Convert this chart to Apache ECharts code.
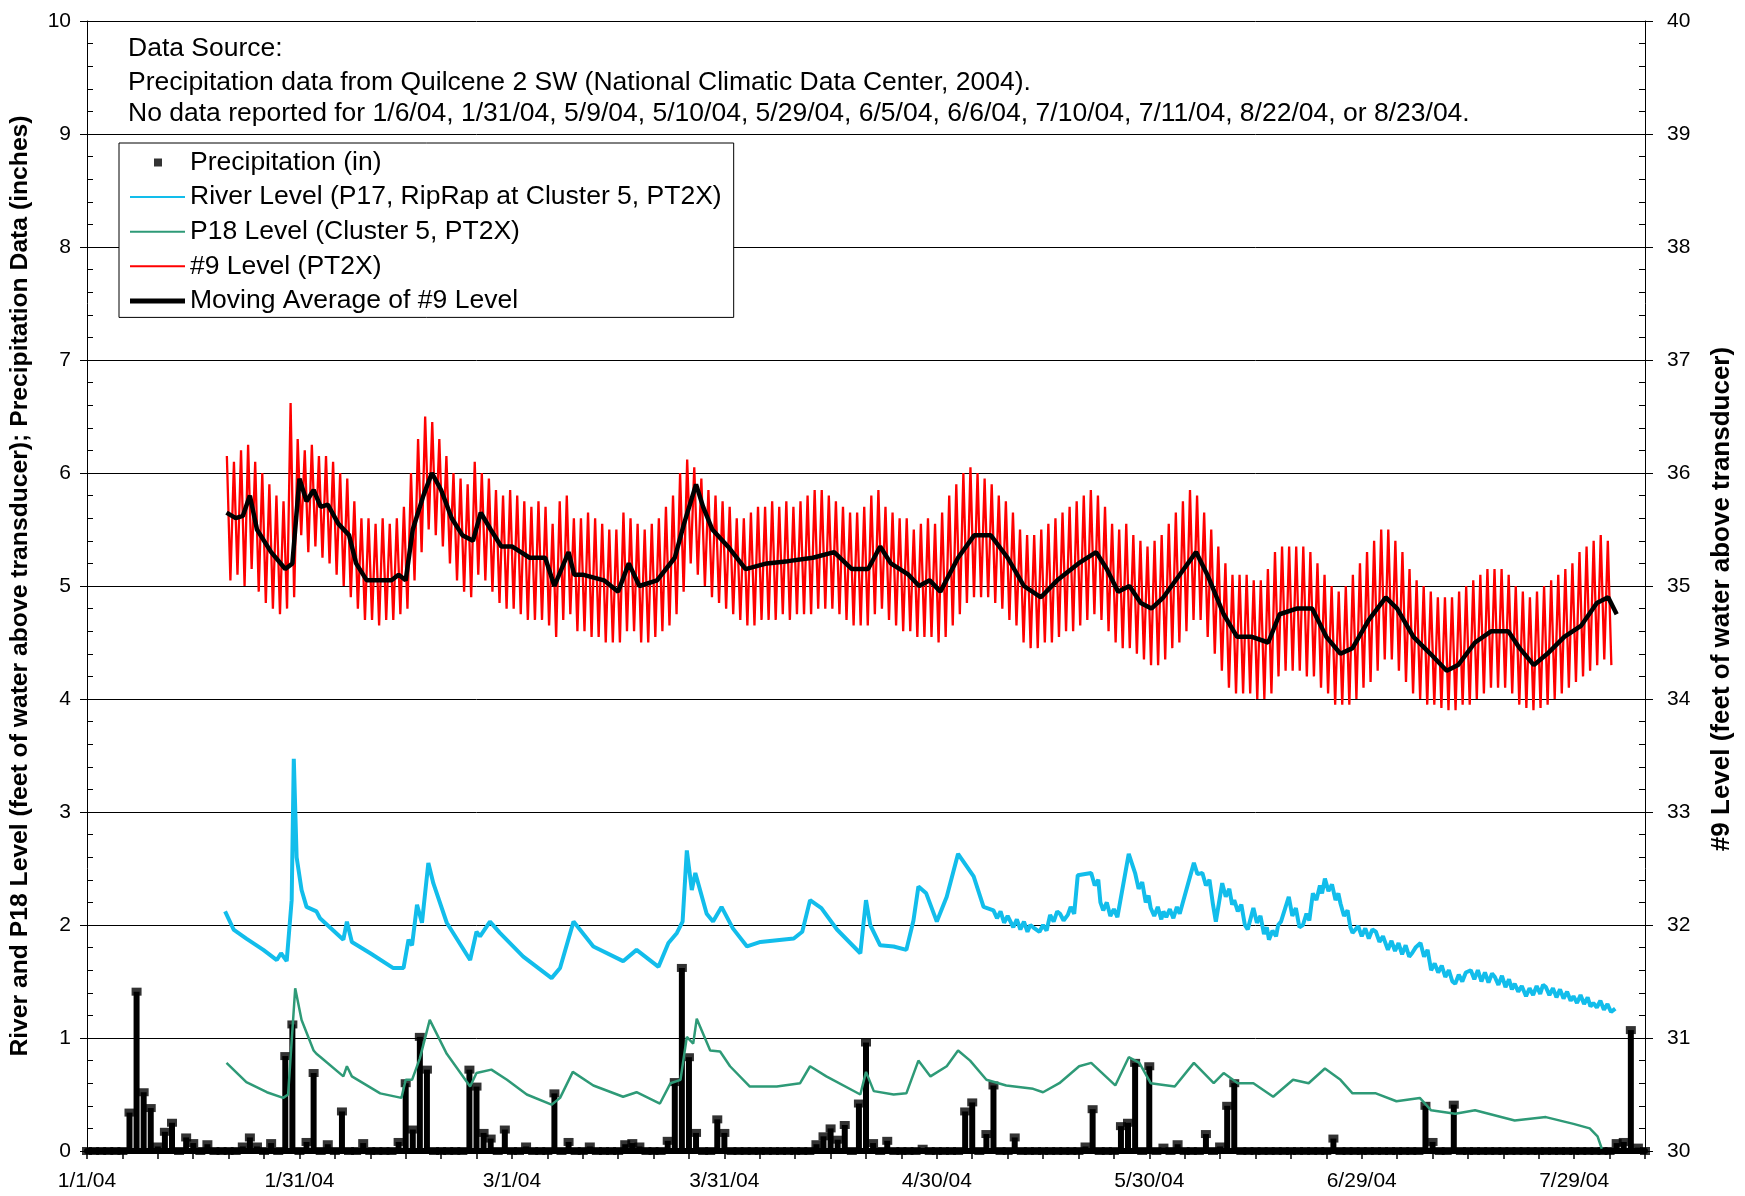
<!DOCTYPE html>
<html><head><meta charset="utf-8">
<script src="https://cdn.jsdelivr.net/npm/echarts@6/dist/echarts.min.js"></script>
<style>html,body{margin:0;padding:0;background:#fff}#c{width:1745px;height:1196px}</style>
</head><body><div id="c"></div>
<script>
// ---- tick labels (x axis: days since 1/1/04, every 30 days) ----
const xTickLabels = ['1/1/04','1/31/04','3/1/04','3/31/04','4/30/04','5/30/04','6/29/04','7/29/04'];

// ---- notes ----
const noteLines = [
  'Data Source:',
  'Precipitation data from Quilcene 2 SW (National Climatic Data Center, 2004).',
  'No data reported for 1/6/04, 1/31/04, 5/9/04, 5/10/04, 5/29/04, 6/5/04, 6/6/04, 7/10/04, 7/11/04, 8/22/04, or 8/23/04.'
];

// ---- series names ----
const seriesNames = ['Precipitation (in)','River Level (P17, RipRap at Cluster 5, PT2X)','P18 Level (Cluster 5, PT2X)','#9 Level (PT2X)','Moving Average of #9 Level'];

// ---- daily precipitation (inches), day 0 = 1/1/04 ----
const precipFirstDay = 0;
const precip = [
  0,0,0,0,0,0,0.34,1.41,0.52,0.38,
  0.04,0.17,0.25,0,0.12,0.07,0,0.06,0,0,
  0,0,0.04,0.12,0.04,0,0.07,0,0.84,1.12,
  0,0.08,0.69,0,0.06,0,0.35,0,0,0.07,
  0,0,0,0,0.08,0.6,0.19,1.01,0.72,0,
  0,0,0,0,0.72,0.57,0.16,0.11,0,0.19,
  0,0,0.04,0,0,0,0.51,0,0.08,0,
  0,0.04,0,0,0,0,0.06,0.07,0.04,0,
  0,0,0.09,0.61,1.62,0.83,0.16,0,0,0.28,
  0.16,0,0,0,0,0,0,0,0,0,
  0,0,0,0.06,0.13,0.2,0.1,0.23,0,0.42,
  0.96,0.07,0,0.09,0,0,0,0,0.02,0,
  0,0,0,0,0.35,0.43,0,0.15,0.58,0,
  0,0.12,0,0,0,0,0,0,0,0,
  0,0.04,0.37,0,0,0,0.22,0.25,0.78,0,
  0.75,0,0.03,0,0.06,0,0,0,0.15,0,
  0.04,0.4,0.6,0,0,0,0,0,0,0,
  0,0,0,0,0,0,0.11,0,0,0,
  0,0,0,0,0,0,0,0,0,0.4,
  0.08,0,0,0.41,0,0,0,0,0,0,
  0,0,0,0,0,0,0,0,0,0,
  0,0,0,0,0,0,0.07,0.08,1.07,0.03,
  0
];

// ---- River level (P17), [day, feet] ----
const riverLevel = [
  [19.5,2.12],[20.7,1.96],[22.5,1.88],[24.9,1.78],[26.8,1.69],[27.4,1.75],[28.2,1.68],[28.9,2.22],[29.2,3.47],[29.6,2.6],
  [30.3,2.31],[31,2.16],[32.4,2.12],[32.9,2.06],[36.2,1.87],[36.7,2.03],[37.4,1.85],[40,1.75],[43.2,1.62],[44.7,1.62],
  [45.4,1.87],[45.9,1.82],[46.6,2.18],[47.3,2.02],[48.2,2.55],[48.9,2.37],[50.8,2.02],[54.1,1.69],[55,1.94],[55.5,1.9],
  [56.9,2.03],[58.3,1.93],[61.6,1.72],[65.6,1.53],[66.8,1.62],[68.7,2.03],[71.5,1.81],[75.7,1.68],[77.6,1.78],[80.7,1.63],
  [82.1,1.84],[83.3,1.93],[84.1,2.03],[84.7,2.66],[85.4,2.31],[85.9,2.46],[87.5,2.1],[88.4,2.03],[89.6,2.16],[91.2,1.97],
  [93.2,1.81],[95.1,1.85],[99.8,1.88],[101,1.94],[102.1,2.22],[103.7,2.15],[105.9,1.96],[109.2,1.75],[110,2.22],[110.6,2.0],
  [112,1.82],[113.9,1.81],[115.7,1.78],[116.7,2.04],[117.4,2.34],[118.5,2.28],[120,2.03],[121.4,2.25],[123,2.63],[125.2,2.43],
  [126.6,2.16],[128,2.13],[128.5,2.06],[129,2.12],[129.5,2.02],[130,2.08],[130.8,1.98],[131.3,2.05],[131.8,1.96],[132.3,2.03],
  [132.8,1.94],[133.2,2.0],[133.6,1.98],[134.5,1.94],[135,2.0],[135.5,1.95],[136,2.09],[136.5,2.03],[137,2.12],[137.4,2.1],
  [137.9,2.04],[138.5,2.09],[138.9,2.16],[139.4,2.1],[139.9,2.44],[141.8,2.46],[142.3,2.35],[142.8,2.4],[143.1,2.2],[143.5,2.13],
  [144,2.2],[144.5,2.08],[145,2.14],[145.5,2.07],[147.1,2.63],[148,2.46],[148.5,2.32],[149,2.38],[149.5,2.2],[149.9,2.26],
  [150.2,2.15],[150.7,2.08],[151.2,2.16],[151.7,2.05],[152,2.12],[152.4,2.07],[152.9,2.14],[153.4,2.06],[153.9,2.16],[154.3,2.1],
  [154.7,2.19],[156.3,2.55],[156.8,2.45],[157.5,2.46],[158,2.35],[158.5,2.4],[159,2.18],[159.4,2.03],[160.3,2.37],[160.8,2.25],
  [161.3,2.32],[161.7,2.18],[162,2.22],[162.5,2.12],[163,2.18],[163.5,2.0],[163.9,1.96],[164.7,2.15],[165.2,2.02],[165.7,2.08],
  [166.2,1.92],[166.6,1.98],[166.9,1.87],[167.4,1.95],[167.9,1.9],[168.2,2.0],[168.6,2.03],[169.7,2.25],[170.2,2.08],[170.7,2.15],
  [171.2,1.98],[171.7,2.0],[172.2,2.1],[172.6,2.04],[173.1,2.28],[173.6,2.22],[174.1,2.35],[174.4,2.28],[174.8,2.41],[175.3,2.3],
  [175.8,2.36],[176.3,2.22],[176.7,2.28],[177,2.19],[177.5,2.08],[178,2.13],[178.4,1.98],[178.7,1.93],[179.5,1.99],[180,1.9],
  [180.5,1.97],[181,1.88],[181.5,1.96],[182,1.94],[182.5,1.85],[183,1.9],[183.7,1.78],[184.2,1.86],[184.7,1.77],[185.2,1.84],
  [185.7,1.74],[186.2,1.82],[186.7,1.72],[187.1,1.75],[187.6,1.8],[188.3,1.84],[188.8,1.72],[189.3,1.78],[189.8,1.6],[190.3,1.66],
  [190.8,1.58],[191.3,1.64],[191.8,1.54],[192.3,1.6],[192.8,1.5],[193.2,1.48],[193.7,1.56],[194.2,1.5],[194.7,1.58],[195.4,1.6],
  [195.9,1.52],[196.4,1.6],[196.9,1.5],[197.4,1.58],[197.9,1.49],[198.4,1.57],[198.8,1.54],[199.3,1.47],[199.8,1.55],[200.3,1.45],
  [200.8,1.52],[201.2,1.43],[201.6,1.48],[202.1,1.41],[202.6,1.46],[203.2,1.37],[203.7,1.44],[204.2,1.38],[204.7,1.46],[205.2,1.39],
  [205.6,1.47],[206,1.45],[206.5,1.38],[207,1.44],[207.5,1.36],[208,1.43],[208.5,1.35],[209,1.41],[209.5,1.33],[209.9,1.37],
  [210.4,1.31],[210.9,1.38],[211.4,1.3],[211.9,1.36],[212.3,1.28],[212.7,1.31],[213.2,1.27],[213.7,1.33],[214.2,1.25],[214.7,1.3],
  [215.2,1.23],[215.8,1.26]
];

// ---- P18 level, [day, feet] ----
const p18Level = [
  [19.7,0.78],[22.5,0.61],[25.4,0.52],[27.7,0.47],[28.4,0.5],[29.4,1.44],[30.3,1.16],[32,0.89],[32.4,0.86],[33,0.83],
  [36.2,0.66],[36.7,0.75],[37.4,0.66],[41.4,0.51],[44.4,0.47],[45,0.63],[45.9,0.63],[47,0.82],[48.4,1.16],[50.8,0.86],
  [54.1,0.57],[55,0.69],[57.1,0.72],[59.3,0.63],[62.1,0.5],[65.6,0.41],[66.8,0.47],[68.6,0.7],[71.5,0.58],[75.7,0.48],
  [77.6,0.52],[80.9,0.42],[82.4,0.6],[83.8,0.63],[84.7,1.01],[85.6,0.95],[86.1,1.17],[88,0.89],[89.4,0.88],[90.8,0.75],
  [93.6,0.57],[97.4,0.57],[100.7,0.6],[102.1,0.75],[104.4,0.66],[109.2,0.5],[110,0.7],[111.1,0.53],[113.9,0.5],[115.7,0.51],
  [117.4,0.8],[119.1,0.66],[121.4,0.75],[123,0.89],[124.7,0.8],[127,0.63],[129.8,0.58],[133.6,0.55],[135,0.52],[137.3,0.6],
  [140.1,0.75],[141.8,0.78],[145.2,0.58],[147.1,0.83],[148.6,0.78],[150.2,0.6],[153.6,0.57],[156.3,0.78],[159.1,0.6],[160.5,0.69],
  [162.5,0.6],[164.7,0.6],[167.5,0.48],[170.3,0.63],[172.5,0.6],[174.8,0.73],[177,0.63],[178.7,0.51],[182,0.51],[184.9,0.44],
  [188.2,0.47],[189.8,0.36],[193.2,0.33],[196,0.36],[201.6,0.27],[206,0.3],[209.9,0.24],[212.2,0.2],[213.3,0.13],[213.9,0.02]
];

// ---- #9 level (right axis): daily high and low, first day = 20 ----
const no9FirstDay = 20;
const no9High = [
  36.15,36.1,36.2,36.25,36.1,36.0,35.9,35.8,35.75,36.62,
  36.3,36.2,36.25,36.15,36.15,36.1,36.0,35.95,35.75,35.6,
  35.6,35.55,35.6,35.55,35.6,35.7,36.0,36.3,36.5,36.45,
  36.3,36.15,36.0,35.95,35.9,36.1,36.0,35.95,35.85,35.8,
  35.85,35.8,35.75,35.7,35.75,35.7,35.55,35.75,35.8,35.6,
  35.6,35.65,35.6,35.55,35.5,35.5,35.65,35.6,35.55,35.5,
  35.55,35.6,35.7,35.8,36.0,36.12,36.05,35.95,35.85,35.8,
  35.75,35.7,35.6,35.6,35.65,35.7,35.7,35.75,35.7,35.75,
  35.7,35.75,35.8,35.85,35.85,35.8,35.75,35.7,35.65,35.65,
  35.7,35.8,35.85,35.7,35.65,35.6,35.6,35.5,35.55,35.6,
  35.55,35.65,35.8,35.9,36.0,36.05,36.0,35.95,35.9,35.8,
  35.75,35.65,35.5,35.45,35.45,35.5,35.55,35.6,35.65,35.7,
  35.75,35.8,35.85,35.8,35.7,35.55,35.5,35.55,35.45,35.4,
  35.35,35.4,35.45,35.55,35.65,35.75,35.85,35.8,35.65,35.5,
  35.35,35.2,35.1,35.1,35.1,35.05,35.05,35.15,35.3,35.35,
  35.35,35.35,35.35,35.3,35.2,35.1,35.0,34.95,35.0,35.1,
  35.2,35.3,35.4,35.5,35.5,35.4,35.3,35.15,35.05,35.0,
  34.95,34.9,34.9,34.9,34.95,35.0,35.05,35.1,35.15,35.15,
  35.15,35.1,35.0,34.95,34.9,34.95,35.0,35.05,35.1,35.15,
  35.2,35.3,35.35,35.4,35.45,35.4
];
const no9Low = [
  35.05,35.1,35.0,35.15,34.95,34.85,34.8,34.75,34.8,34.9,
  35.45,35.3,35.35,35.25,35.2,35.1,35.0,34.9,34.8,34.7,
  34.7,34.65,34.7,34.7,34.75,34.8,35.05,35.3,35.5,35.45,
  35.35,35.2,35.05,34.95,34.9,35.1,35.05,34.95,34.85,34.8,
  34.8,34.75,34.7,34.7,34.7,34.65,34.55,34.7,34.75,34.6,
  34.6,34.55,34.55,34.5,34.5,34.5,34.6,34.6,34.5,34.5,
  34.55,34.6,34.65,34.75,34.95,35.2,35.1,35.0,34.9,34.85,
  34.8,34.75,34.7,34.65,34.65,34.7,34.7,34.7,34.75,34.7,
  34.75,34.75,34.75,34.8,34.8,34.8,34.75,34.7,34.65,34.65,
  34.65,34.75,34.8,34.7,34.65,34.6,34.6,34.55,34.55,34.55,
  34.5,34.55,34.65,34.75,34.85,34.9,34.9,34.9,34.85,34.8,
  34.7,34.65,34.5,34.45,34.45,34.5,34.5,34.55,34.6,34.6,
  34.65,34.7,34.75,34.7,34.6,34.5,34.45,34.45,34.4,34.35,
  34.3,34.3,34.35,34.45,34.5,34.6,34.7,34.7,34.55,34.4,
  34.25,34.1,34.05,34.05,34.05,34.0,34.0,34.05,34.2,34.25,
  34.25,34.25,34.2,34.2,34.1,34.05,33.95,33.95,33.95,34.0,
  34.1,34.15,34.25,34.35,34.35,34.25,34.15,34.05,34.0,33.95,
  33.95,33.92,33.9,33.9,33.95,33.95,34.0,34.05,34.1,34.1,
  34.1,34.05,33.95,33.92,33.9,33.92,33.95,34.0,34.05,34.1,
  34.15,34.2,34.25,34.3,34.35,34.3
];

// ---- moving average of #9 level, [day, feet] ----
const movingAvg = [
  [19.7,35.65],[21,35.6],[22,35.62],[23,35.8],[24,35.5],[26,35.3],[28,35.15],[29,35.2],[30,35.95],[31,35.75],
  [32,35.85],[33,35.7],[34,35.72],[35.5,35.55],[37,35.45],[38,35.2],[39.5,35.05],[41,35.05],[43,35.05],[44,35.1],
  [45,35.05],[46,35.5],[47.5,35.8],[48.7,36.0],[50,35.85],[51.5,35.6],[53,35.45],[54.5,35.4],[55.6,35.65],[57,35.5],
  [58.5,35.35],[60,35.35],[62.5,35.25],[64.7,35.25],[66,35.0],[68,35.3],[68.8,35.1],[70,35.1],[73,35.05],[75,34.95],
  [76.5,35.2],[78,35.0],[80.5,35.05],[83,35.25],[84.3,35.55],[86,35.9],[87,35.7],[88.3,35.5],[90.5,35.35],[93,35.15],
  [96,35.2],[99,35.22],[102.5,35.25],[105.5,35.3],[108,35.15],[110.3,35.15],[112,35.35],[113.5,35.2],[116,35.1],[117.5,35.0],
  [119,35.05],[120.5,34.95],[123,35.25],[125.3,35.45],[127.6,35.45],[130,35.25],[132.3,35.0],[134.7,34.9],[137,35.05],[140,35.2],
  [142.5,35.3],[144,35.15],[145.6,34.95],[147.2,35.0],[148.8,34.85],[150.3,34.8],[152,34.9],[154.3,35.1],[156.6,35.3],[158.2,35.1],
  [160.5,34.75],[162.4,34.55],[164.5,34.55],[166.8,34.5],[168.4,34.75],[170.8,34.8],[173,34.8],[175,34.55],[177,34.4],[178.7,34.45],
  [181,34.7],[183.4,34.9],[185,34.8],[187.3,34.55],[189.7,34.4],[192,34.25],[193.6,34.3],[196,34.5],[198.3,34.6],[200.7,34.6],
  [202.3,34.45],[204.3,34.3],[206.2,34.4],[208.6,34.55],[211,34.65],[213.2,34.85],[214.8,34.9],[216,34.75]
];

// ---- build series data from the arrays ----
const precipData = precip.map((v, i) => [precipFirstDay + i, v]);
const no9Data = [];
no9High.forEach((h, i) => {
  const d = no9FirstDay + i;
  no9Data.push([d - 0.25, h]);
  no9Data.push([d + 0.25, no9Low[i]]);
});

const FONT = '"Liberation Sans", Arial, sans-serif';
const chart = echarts.init(document.getElementById('c'), null, {renderer: 'canvas'});

const commonYLeft = {type: 'value', min: 0, max: 10, interval: 1, position: 'left'};
const commonYRight = {type: 'value', min: 30, max: 40, interval: 1, position: 'right'};

const lineIcon = 'path://M0,0 M55,26 M0,12 h55 v2 h-55 z';
const thickIcon = 'path://M0,0 M55,26 M0,10.5 h55 v5 h-55 z';

chart.setOption({
  animation: false,
  backgroundColor: '#ffffff',
  grid: {left: 87, right: 100, top: 21, bottom: 45, containLabel: false},
  xAxis: [{
    type: 'value', min: 0, max: 220, interval: 30,
    axisLine: {show: true, lineStyle: {color: '#000', width: 6}},
    axisTick: {show: true, length: 8, lineStyle: {color: '#000', width: 1.5}},
    minorTick: {show: true, splitNumber: 6, length: 8, lineStyle: {color: '#000', width: 1.5}},
    splitLine: {show: false},
    axisLabel: {
      fontSize: 21, color: '#000', fontFamily: FONT, margin: 20, showMaxLabel: false,
      formatter: v => { const k = Math.round(v / 30); return (Math.abs(v - k * 30) < 1e-6 && k < xTickLabels.length) ? xTickLabels[k] : ''; }
    }
  }],
  yAxis: [
    Object.assign({}, commonYLeft, {
      name: 'River and P18 Level (feet of water above transducer); Precipitation Data (inches)',
      nameLocation: 'middle', nameRotate: 90, nameGap: 54,
      nameTextStyle: {fontSize: 24.7, fontWeight: 'bold', color: '#000', fontFamily: FONT},
      axisLine: {show: true, lineStyle: {color: '#000', width: 1}},
      axisTick: {show: true, length: 7, lineStyle: {color: '#000'}},
      axisLabel: {fontSize: 21, color: '#000', fontFamily: FONT, margin: 16},
      splitLine: {show: true, lineStyle: {color: '#000', width: 1}}
    }),
    Object.assign({}, commonYRight, {
      name: '#9 Level (feet of water above transducer)',
      nameLocation: 'middle', nameRotate: 90, nameGap: 64,
      nameTextStyle: {fontSize: 26, fontWeight: 'bold', color: '#000', fontFamily: FONT, padding: [0, 26, 0, 0]},
      axisLine: {show: true, lineStyle: {color: '#000', width: 1}},
      axisTick: {show: true, length: 8, lineStyle: {color: '#000'}},
      axisLabel: {fontSize: 21, color: '#000', fontFamily: FONT, margin: 22},
      splitLine: {show: false}
    }),
    // minor ticks pointing into the plot (left and right)
    Object.assign({}, commonYLeft, {
      axisLine: {show: false}, axisLabel: {show: false}, splitLine: {show: false},
      axisTick: {show: false, inside: true},
      minorTick: {show: true, splitNumber: 5, length: 6, lineStyle: {color: '#000'}}
    }),
    Object.assign({}, commonYRight, {
      axisLine: {show: false}, axisLabel: {show: false}, splitLine: {show: false},
      axisTick: {show: false, inside: true},
      minorTick: {show: true, splitNumber: 5, length: 6, lineStyle: {color: '#000'}}
    })
  ],
  legend: {
    orient: 'vertical', left: 119, top: 143,
    padding: [6, 12, 3, 11],
    itemWidth: 55, itemHeight: 26, itemGap: 7.6,
    borderColor: '#000', borderWidth: 1, backgroundColor: '#fff',
    selectedMode: false,
    textStyle: {fontSize: 26.5, lineHeight: 26, color: '#000', fontFamily: FONT},
    data: [
      {name: seriesNames[0], icon: 'path://M0,0 M55,26 M24,9 h8 v8 h-8 z', itemStyle: {color: '#000'}},
      {name: seriesNames[1], icon: lineIcon, itemStyle: {color: '#12BDEB'}},
      {name: seriesNames[2], icon: lineIcon, itemStyle: {color: '#2E9A77'}},
      {name: seriesNames[3], icon: lineIcon, itemStyle: {color: '#FF0000'}},
      {name: seriesNames[4], icon: thickIcon, itemStyle: {color: '#000'}}
    ]
  },
  graphic: noteLines.map((t, i) => ({
    type: 'text', x: 128, y: [49, 83, 114][i], silent: true,
    style: {text: t, fill: '#000', font: '26.5px ' + FONT, verticalAlign: 'middle', align: 'left'}
  })),
  series: [
    {
      name: 'precipBars', type: 'bar', xAxisIndex: 0, yAxisIndex: 0,
      data: precipData, barWidth: 6, itemStyle: {color: '#000'}, z: 3, silent: true
    },
    {
      name: seriesNames[0], type: 'scatter', xAxisIndex: 0, yAxisIndex: 0,
      data: precipData, symbol: 'rect', symbolSize: [10, 8], itemStyle: {color: '#000'}, z: 3, silent: true
    },
    {
      name: seriesNames[1], type: 'line', yAxisIndex: 0, data: riverLevel,
      symbol: 'none', lineStyle: {color: '#12BDEB', width: 4}, itemStyle: {color: '#12BDEB'}, z: 4
    },
    {
      name: seriesNames[2], type: 'line', yAxisIndex: 0, data: p18Level,
      symbol: 'none', lineStyle: {color: '#2E9A77', width: 2.5}, itemStyle: {color: '#2E9A77'}, z: 4
    },
    {
      name: seriesNames[3], type: 'line', yAxisIndex: 1, data: no9Data,
      symbol: 'none', lineStyle: {color: '#FF0000', width: 2.3}, itemStyle: {color: '#FF0000'}, z: 5
    },
    {
      name: seriesNames[4], type: 'line', yAxisIndex: 1, data: movingAvg,
      symbol: 'none', lineStyle: {color: '#000', width: 4.5}, itemStyle: {color: '#000'}, z: 6
    }
  ]
});
</script>
</body></html>
